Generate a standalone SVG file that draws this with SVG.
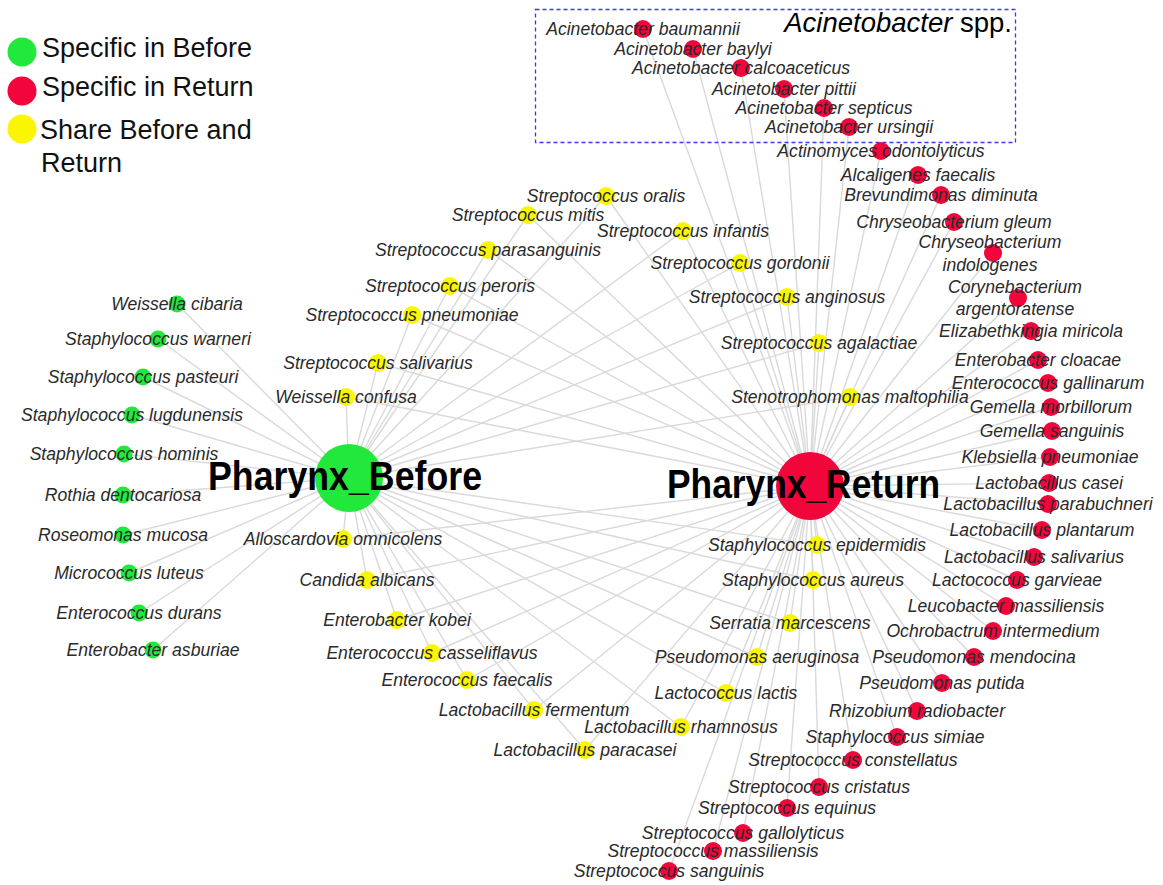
<svg xmlns="http://www.w3.org/2000/svg" width="1163" height="885" viewBox="0 0 1163 885">
<style>
.e{stroke:#d9d9d9;stroke-width:1.4;fill:none}
.gr{fill:#22e83c}
.rd{fill:#f2053b}
.yl{fill:#faf600}
.l{font-family:"Liberation Sans",Arial,sans-serif;font-style:italic;font-size:17.6px;fill:#2a2a2a;text-anchor:middle}
.leg{font-family:"Liberation Sans",Arial,sans-serif;font-size:27px;fill:#111}
.hub{font-family:"Liberation Sans",Arial,sans-serif;font-weight:bold;font-size:41px;fill:#000}
</style>
<rect width="1163" height="885" fill="#fff"/>
<g id="connectors">
<line class="e" x1="349" y1="478" x2="177" y2="304"/>
<line class="e" x1="349" y1="478" x2="158" y2="339"/>
<line class="e" x1="349" y1="478" x2="143" y2="377"/>
<line class="e" x1="349" y1="478" x2="132" y2="415"/>
<line class="e" x1="349" y1="478" x2="124" y2="454"/>
<line class="e" x1="349" y1="478" x2="123" y2="495"/>
<line class="e" x1="349" y1="478" x2="123" y2="535"/>
<line class="e" x1="349" y1="478" x2="129" y2="573"/>
<line class="e" x1="349" y1="478" x2="139" y2="613"/>
<line class="e" x1="349" y1="478" x2="153" y2="650"/>
<line class="e" x1="349" y1="478" x2="606" y2="196"/><line class="e" x1="810" y1="486" x2="606" y2="196"/>
<line class="e" x1="349" y1="478" x2="528" y2="215"/><line class="e" x1="810" y1="486" x2="528" y2="215"/>
<line class="e" x1="349" y1="478" x2="683" y2="231"/><line class="e" x1="810" y1="486" x2="683" y2="231"/>
<line class="e" x1="349" y1="478" x2="488" y2="250"/><line class="e" x1="810" y1="486" x2="488" y2="250"/>
<line class="e" x1="349" y1="478" x2="740" y2="263"/><line class="e" x1="810" y1="486" x2="740" y2="263"/>
<line class="e" x1="349" y1="478" x2="450" y2="286"/><line class="e" x1="810" y1="486" x2="450" y2="286"/>
<line class="e" x1="349" y1="478" x2="787" y2="297"/><line class="e" x1="810" y1="486" x2="787" y2="297"/>
<line class="e" x1="349" y1="478" x2="412" y2="315"/><line class="e" x1="810" y1="486" x2="412" y2="315"/>
<line class="e" x1="349" y1="478" x2="819" y2="343"/><line class="e" x1="810" y1="486" x2="819" y2="343"/>
<line class="e" x1="349" y1="478" x2="378" y2="363"/><line class="e" x1="810" y1="486" x2="378" y2="363"/>
<line class="e" x1="349" y1="478" x2="346" y2="397"/><line class="e" x1="810" y1="486" x2="346" y2="397"/>
<line class="e" x1="349" y1="478" x2="850" y2="397"/><line class="e" x1="810" y1="486" x2="850" y2="397"/>
<line class="e" x1="349" y1="478" x2="343" y2="539"/><line class="e" x1="810" y1="486" x2="343" y2="539"/>
<line class="e" x1="349" y1="478" x2="367" y2="580"/><line class="e" x1="810" y1="486" x2="367" y2="580"/>
<line class="e" x1="349" y1="478" x2="397" y2="620"/><line class="e" x1="810" y1="486" x2="397" y2="620"/>
<line class="e" x1="349" y1="478" x2="432" y2="653"/><line class="e" x1="810" y1="486" x2="432" y2="653"/>
<line class="e" x1="349" y1="478" x2="467" y2="680"/><line class="e" x1="810" y1="486" x2="467" y2="680"/>
<line class="e" x1="349" y1="478" x2="534" y2="710"/><line class="e" x1="810" y1="486" x2="534" y2="710"/>
<line class="e" x1="349" y1="478" x2="681" y2="727"/><line class="e" x1="810" y1="486" x2="681" y2="727"/>
<line class="e" x1="349" y1="478" x2="585" y2="750"/><line class="e" x1="810" y1="486" x2="585" y2="750"/>
<line class="e" x1="349" y1="478" x2="817" y2="545"/><line class="e" x1="810" y1="486" x2="817" y2="545"/>
<line class="e" x1="349" y1="478" x2="813" y2="580"/><line class="e" x1="810" y1="486" x2="813" y2="580"/>
<line class="e" x1="349" y1="478" x2="790" y2="623"/><line class="e" x1="810" y1="486" x2="790" y2="623"/>
<line class="e" x1="349" y1="478" x2="757" y2="657"/><line class="e" x1="810" y1="486" x2="757" y2="657"/>
<line class="e" x1="349" y1="478" x2="726" y2="693"/><line class="e" x1="810" y1="486" x2="726" y2="693"/>
<line class="e" x1="810" y1="486" x2="643" y2="29"/>
<line class="e" x1="810" y1="486" x2="693" y2="49"/>
<line class="e" x1="810" y1="486" x2="741" y2="68"/>
<line class="e" x1="810" y1="486" x2="784" y2="89"/>
<line class="e" x1="810" y1="486" x2="824" y2="108"/>
<line class="e" x1="810" y1="486" x2="849" y2="127"/>
<line class="e" x1="810" y1="486" x2="881" y2="151"/>
<line class="e" x1="810" y1="486" x2="918" y2="175"/>
<line class="e" x1="810" y1="486" x2="941" y2="195"/>
<line class="e" x1="810" y1="486" x2="954" y2="222"/>
<line class="e" x1="810" y1="486" x2="993" y2="253"/>
<line class="e" x1="810" y1="486" x2="1018" y2="298"/>
<line class="e" x1="810" y1="486" x2="1031" y2="331"/>
<line class="e" x1="810" y1="486" x2="1038" y2="360"/>
<line class="e" x1="810" y1="486" x2="1048" y2="383"/>
<line class="e" x1="810" y1="486" x2="1051" y2="407"/>
<line class="e" x1="810" y1="486" x2="1052" y2="431"/>
<line class="e" x1="810" y1="486" x2="1050" y2="457"/>
<line class="e" x1="810" y1="486" x2="1049" y2="483"/>
<line class="e" x1="810" y1="486" x2="1048" y2="504"/>
<line class="e" x1="810" y1="486" x2="1042" y2="530"/>
<line class="e" x1="810" y1="486" x2="1034" y2="557"/>
<line class="e" x1="810" y1="486" x2="1017" y2="580"/>
<line class="e" x1="810" y1="486" x2="1006" y2="606"/>
<line class="e" x1="810" y1="486" x2="993" y2="631"/>
<line class="e" x1="810" y1="486" x2="974" y2="657"/>
<line class="e" x1="810" y1="486" x2="942" y2="683"/>
<line class="e" x1="810" y1="486" x2="917" y2="711"/>
<line class="e" x1="810" y1="486" x2="897" y2="737"/>
<line class="e" x1="810" y1="486" x2="853" y2="760"/>
<line class="e" x1="810" y1="486" x2="819" y2="787"/>
<line class="e" x1="810" y1="486" x2="787" y2="808"/>
<line class="e" x1="810" y1="486" x2="743" y2="833"/>
<line class="e" x1="810" y1="486" x2="713" y2="851"/>
<line class="e" x1="810" y1="486" x2="669" y2="871"/>
</g>
<g id="legend">
<circle class="gr" cx="22" cy="52" r="14.5"/>
<text class="leg" x="42" y="57">Specific in Before</text>
<circle class="rd" cx="22" cy="91" r="14.5"/>
<text class="leg" x="42" y="96">Specific in Return</text>
<circle class="yl" cx="22" cy="129" r="14.5"/>
<text class="leg" x="40" y="139">Share Before and</text>
<text class="leg" x="41" y="172">Return</text>
</g>
<g id="acinetobacter-box">
<rect x="535.5" y="9.5" width="480" height="133" fill="none" stroke="#3838f0" stroke-width="1.3" stroke-dasharray="4 3"/>
<text x="1012" y="32" font-family="Liberation Sans, Arial, sans-serif" font-size="27.5" text-anchor="end" fill="#000"><tspan font-style="italic">Acinetobacter</tspan> spp.</text>
</g>
<g id="hub-before"><circle class="gr" cx="349" cy="478" r="34"/><text class="hub" x="208" y="490" textLength="274" lengthAdjust="spacingAndGlyphs">Pharynx_Before</text></g>
<g id="hub-return"><circle class="rd" cx="810" cy="486" r="34"/><text class="hub" x="667" y="498" textLength="273" lengthAdjust="spacingAndGlyphs">Pharynx_Return</text></g>
<g id="n-weissella-cibaria"><circle class="gr" cx="177" cy="304" r="8.5"/><text class="l" x="177" y="310">Weissella cibaria</text></g>
<g id="n-staph-warneri"><circle class="gr" cx="158" cy="339" r="8.5"/><text class="l" x="158" y="345">Staphylococcus warneri</text></g>
<g id="n-staph-pasteuri"><circle class="gr" cx="143" cy="377" r="8.5"/><text class="l" x="143" y="383">Staphylococcus pasteuri</text></g>
<g id="n-staph-lugdunensis"><circle class="gr" cx="132" cy="415" r="8.5"/><text class="l" x="132" y="421">Staphylococcus lugdunensis</text></g>
<g id="n-staph-hominis"><circle class="gr" cx="124" cy="454" r="8.5"/><text class="l" x="124" y="460">Staphylococcus hominis</text></g>
<g id="n-rothia"><circle class="gr" cx="123" cy="495" r="8.5"/><text class="l" x="123" y="501">Rothia dentocariosa</text></g>
<g id="n-roseomonas"><circle class="gr" cx="123" cy="535" r="8.5"/><text class="l" x="123" y="541">Roseomonas mucosa</text></g>
<g id="n-micrococcus"><circle class="gr" cx="129" cy="573" r="8.5"/><text class="l" x="129" y="579">Micrococcus luteus</text></g>
<g id="n-enterococcus-durans"><circle class="gr" cx="139" cy="613" r="8.5"/><text class="l" x="139" y="619">Enterococcus durans</text></g>
<g id="n-enterobacter-asburiae"><circle class="gr" cx="153" cy="650" r="8.5"/><text class="l" x="153" y="656">Enterobacter asburiae</text></g>
<g id="n-strep-oralis"><circle class="yl" cx="606" cy="196" r="9"/><text class="l" x="606" y="202">Streptococcus oralis</text></g>
<g id="n-strep-mitis"><circle class="yl" cx="528" cy="215" r="9"/><text class="l" x="528" y="221">Streptococcus mitis</text></g>
<g id="n-strep-infantis"><circle class="yl" cx="683" cy="231" r="9"/><text class="l" x="683" y="237">Streptococcus infantis</text></g>
<g id="n-strep-parasanguinis"><circle class="yl" cx="488" cy="250" r="9"/><text class="l" x="488" y="256">Streptococcus parasanguinis</text></g>
<g id="n-strep-gordonii"><circle class="yl" cx="740" cy="263" r="9"/><text class="l" x="740" y="269">Streptococcus gordonii</text></g>
<g id="n-strep-peroris"><circle class="yl" cx="450" cy="286" r="9"/><text class="l" x="450" y="292">Streptococcus peroris</text></g>
<g id="n-strep-anginosus"><circle class="yl" cx="787" cy="297" r="9"/><text class="l" x="787" y="303">Streptococcus anginosus</text></g>
<g id="n-strep-pneumoniae"><circle class="yl" cx="412" cy="315" r="9"/><text class="l" x="412" y="321">Streptococcus pneumoniae</text></g>
<g id="n-strep-agalactiae"><circle class="yl" cx="819" cy="343" r="9"/><text class="l" x="819" y="349">Streptococcus agalactiae</text></g>
<g id="n-strep-salivarius"><circle class="yl" cx="378" cy="363" r="9"/><text class="l" x="378" y="369">Streptococcus salivarius</text></g>
<g id="n-weissella-confusa"><circle class="yl" cx="346" cy="397" r="9"/><text class="l" x="346" y="403">Weissella confusa</text></g>
<g id="n-stenotrophomonas"><circle class="yl" cx="850" cy="397" r="9"/><text class="l" x="850" y="403">Stenotrophomonas maltophilia</text></g>
<g id="n-alloscardovia"><circle class="yl" cx="343" cy="539" r="9"/><text class="l" x="343" y="545">Alloscardovia omnicolens</text></g>
<g id="n-candida"><circle class="yl" cx="367" cy="580" r="9"/><text class="l" x="367" y="586">Candida albicans</text></g>
<g id="n-enterobacter-kobei"><circle class="yl" cx="397" cy="620" r="9"/><text class="l" x="397" y="626">Enterobacter kobei</text></g>
<g id="n-enterococcus-casseliflavus"><circle class="yl" cx="432" cy="653" r="9"/><text class="l" x="432" y="659">Enterococcus casseliflavus</text></g>
<g id="n-enterococcus-faecalis"><circle class="yl" cx="467" cy="680" r="9"/><text class="l" x="467" y="686">Enterococcus faecalis</text></g>
<g id="n-lacto-fermentum"><circle class="yl" cx="534" cy="710" r="9"/><text class="l" x="534" y="716">Lactobacillus fermentum</text></g>
<g id="n-lacto-rhamnosus"><circle class="yl" cx="681" cy="727" r="9"/><text class="l" x="681" y="733">Lactobacillus rhamnosus</text></g>
<g id="n-lacto-paracasei"><circle class="yl" cx="585" cy="750" r="9"/><text class="l" x="585" y="756">Lactobacillus paracasei</text></g>
<g id="n-staph-epidermidis"><circle class="yl" cx="817" cy="545" r="9"/><text class="l" x="817" y="551">Staphylococcus epidermidis</text></g>
<g id="n-staph-aureus"><circle class="yl" cx="813" cy="580" r="9"/><text class="l" x="813" y="586">Staphylococcus aureus</text></g>
<g id="n-serratia"><circle class="yl" cx="790" cy="623" r="9"/><text class="l" x="790" y="629">Serratia marcescens</text></g>
<g id="n-pseudo-aeruginosa"><circle class="yl" cx="757" cy="657" r="9"/><text class="l" x="757" y="663">Pseudomonas aeruginosa</text></g>
<g id="n-lactococcus-lactis"><circle class="yl" cx="726" cy="693" r="9"/><text class="l" x="726" y="699">Lactococcus lactis</text></g>
<g id="n-acin-baumannii"><circle class="rd" cx="643" cy="29" r="9"/><text class="l" x="643" y="35">Acinetobacter baumannii</text></g>
<g id="n-acin-baylyi"><circle class="rd" cx="693" cy="49" r="9"/><text class="l" x="693" y="55">Acinetobacter baylyi</text></g>
<g id="n-acin-calcoaceticus"><circle class="rd" cx="741" cy="68" r="9"/><text class="l" x="741" y="74">Acinetobacter calcoaceticus</text></g>
<g id="n-acin-pittii"><circle class="rd" cx="784" cy="89" r="9"/><text class="l" x="784" y="95">Acinetobacter pittii</text></g>
<g id="n-acin-septicus"><circle class="rd" cx="824" cy="108" r="9"/><text class="l" x="824" y="114">Acinetobacter septicus</text></g>
<g id="n-acin-ursingii"><circle class="rd" cx="849" cy="127" r="9"/><text class="l" x="849" y="133">Acinetobacter ursingii</text></g>
<g id="n-actinomyces"><circle class="rd" cx="881" cy="151" r="9"/><text class="l" x="881" y="157">Actinomyces odontolyticus</text></g>
<g id="n-alcaligenes"><circle class="rd" cx="918" cy="175" r="9"/><text class="l" x="918" y="181">Alcaligenes faecalis</text></g>
<g id="n-brevundimonas"><circle class="rd" cx="941" cy="195" r="9"/><text class="l" x="941" y="201">Brevundimonas diminuta</text></g>
<g id="n-chryseo-gleum"><circle class="rd" cx="954" cy="222" r="9"/><text class="l" x="954" y="228">Chryseobacterium gleum</text></g>
<g id="n-chryseo-indologenes"><circle class="rd" cx="993" cy="253" r="9"/><text class="l" x="990" y="248">Chryseobacterium</text><text class="l" x="990" y="271">indologenes</text></g>
<g id="n-corynebacterium"><circle class="rd" cx="1018" cy="298" r="9"/><text class="l" x="1015" y="293">Corynebacterium</text><text class="l" x="1015" y="315">argentoratense</text></g>
<g id="n-elizabethkingia"><circle class="rd" cx="1031" cy="331" r="9"/><text class="l" x="1031" y="337">Elizabethkingia miricola</text></g>
<g id="n-enterobacter-cloacae"><circle class="rd" cx="1038" cy="360" r="9"/><text class="l" x="1038" y="366">Enterobacter cloacae</text></g>
<g id="n-enterococcus-gallinarum"><circle class="rd" cx="1048" cy="383" r="9"/><text class="l" x="1048" y="389">Enterococcus gallinarum</text></g>
<g id="n-gemella-morbillorum"><circle class="rd" cx="1051" cy="407" r="9"/><text class="l" x="1051" y="413">Gemella morbillorum</text></g>
<g id="n-gemella-sanguinis"><circle class="rd" cx="1052" cy="431" r="9"/><text class="l" x="1052" y="437">Gemella sanguinis</text></g>
<g id="n-klebsiella"><circle class="rd" cx="1050" cy="457" r="9"/><text class="l" x="1050" y="463">Klebsiella pneumoniae</text></g>
<g id="n-lacto-casei"><circle class="rd" cx="1049" cy="483" r="9"/><text class="l" x="1049" y="489">Lactobacillus casei</text></g>
<g id="n-lacto-parabuchneri"><circle class="rd" cx="1048" cy="504" r="9"/><text class="l" x="1048" y="510">Lactobacillus parabuchneri</text></g>
<g id="n-lacto-plantarum"><circle class="rd" cx="1042" cy="530" r="9"/><text class="l" x="1042" y="536">Lactobacillus plantarum</text></g>
<g id="n-lacto-salivarius"><circle class="rd" cx="1034" cy="557" r="9"/><text class="l" x="1034" y="563">Lactobacillus salivarius</text></g>
<g id="n-lactococcus-garvieae"><circle class="rd" cx="1017" cy="580" r="9"/><text class="l" x="1017" y="586">Lactococcus garvieae</text></g>
<g id="n-leucobacter"><circle class="rd" cx="1006" cy="606" r="9"/><text class="l" x="1006" y="612">Leucobacter massiliensis</text></g>
<g id="n-ochrobactrum"><circle class="rd" cx="993" cy="631" r="9"/><text class="l" x="993" y="637">Ochrobactrum intermedium</text></g>
<g id="n-pseudo-mendocina"><circle class="rd" cx="974" cy="657" r="9"/><text class="l" x="974" y="663">Pseudomonas mendocina</text></g>
<g id="n-pseudo-putida"><circle class="rd" cx="942" cy="683" r="9"/><text class="l" x="942" y="689">Pseudomonas putida</text></g>
<g id="n-rhizobium"><circle class="rd" cx="917" cy="711" r="9"/><text class="l" x="917" y="717">Rhizobium radiobacter</text></g>
<g id="n-staph-simiae"><circle class="rd" cx="897" cy="737" r="9"/><text class="l" x="895" y="743">Staphylococcus simiae</text></g>
<g id="n-strep-constellatus"><circle class="rd" cx="853" cy="760" r="9"/><text class="l" x="853" y="766">Streptococcus constellatus</text></g>
<g id="n-strep-cristatus"><circle class="rd" cx="819" cy="787" r="9"/><text class="l" x="819" y="793">Streptococcus cristatus</text></g>
<g id="n-strep-equinus"><circle class="rd" cx="787" cy="808" r="9"/><text class="l" x="787" y="814">Streptococcus equinus</text></g>
<g id="n-strep-gallolyticus"><circle class="rd" cx="743" cy="833" r="9"/><text class="l" x="743" y="839">Streptococcus gallolyticus</text></g>
<g id="n-strep-massiliensis"><circle class="rd" cx="713" cy="851" r="9"/><text class="l" x="713" y="857">Streptococcus massiliensis</text></g>
<g id="n-strep-sanguinis"><circle class="rd" cx="669" cy="871" r="9"/><text class="l" x="669" y="877">Streptococcus sanguinis</text></g>
</svg>
